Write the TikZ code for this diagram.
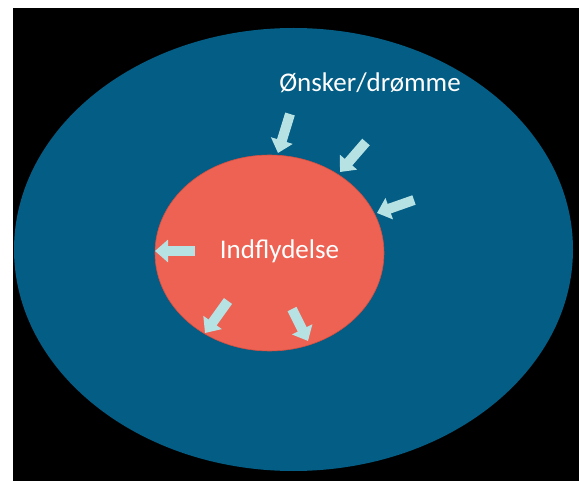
\documentclass[tikz,border=0pt]{standalone}
\usepackage{fontspec}
\setmainfont{Carlito}
\usetikzlibrary{arrows.meta}
\definecolor{bgblue}{RGB}{3,93,132}
\definecolor{inred}{RGB}{237,98,82}
\definecolor{inredline}{RGB}{214,80,66}
\definecolor{arrowcyan}{RGB}{183,226,228}
\tikzset{
  blockarrow/.style={draw=arrowcyan, line width=10pt, line cap=butt,
    -{Triangle[width=22pt,length=13pt]}},
  lbl/.style={text=white, font=\fontsize{27}{32}\selectfont, inner sep=0pt, anchor=base}
}
\begin{document}
\begin{tikzpicture}[x=1pt,y=-1pt]
\useasboundingbox (0,0) rectangle (579,481);
\fill[white] (0,0) rectangle (579,481);
\fill[black] (13,8) rectangle (579,481);
\fill[bgblue] (293.5,249.5) ellipse [x radius=279.5, y radius=221.5];
\filldraw[fill=inred, draw=inredline, line width=0.6pt] (269.5,253) ellipse [x radius=114.5, y radius=98];
\node[lbl] (infl) at (279.5,258.5) {Indflydelse};
\node[lbl] (onsk) at (370,92) {Ønsker/drømme};
\coordinate (t1) at (290,114); \coordinate (h1) at (278,153);
\coordinate (t2) at (366,142); \coordinate (h2) at (340,172);
\coordinate (t3) at (414,200); \coordinate (h3) at (377,213);
\coordinate (t4) at (195,251); \coordinate (h4) at (155,251);
\coordinate (t5) at (228,301); \coordinate (h5) at (205,333);
\coordinate (t6) at (292,309); \coordinate (h6) at (308,341);
\draw[blockarrow] (t1) -- (h1);
\draw[blockarrow] (t2) -- (h2);
\draw[blockarrow] (t3) -- (h3);
\draw[blockarrow] (t4) -- (h4);
\draw[blockarrow] (t5) -- (h5);
\draw[blockarrow] (t6) -- (h6);
\end{tikzpicture}
\end{document}
